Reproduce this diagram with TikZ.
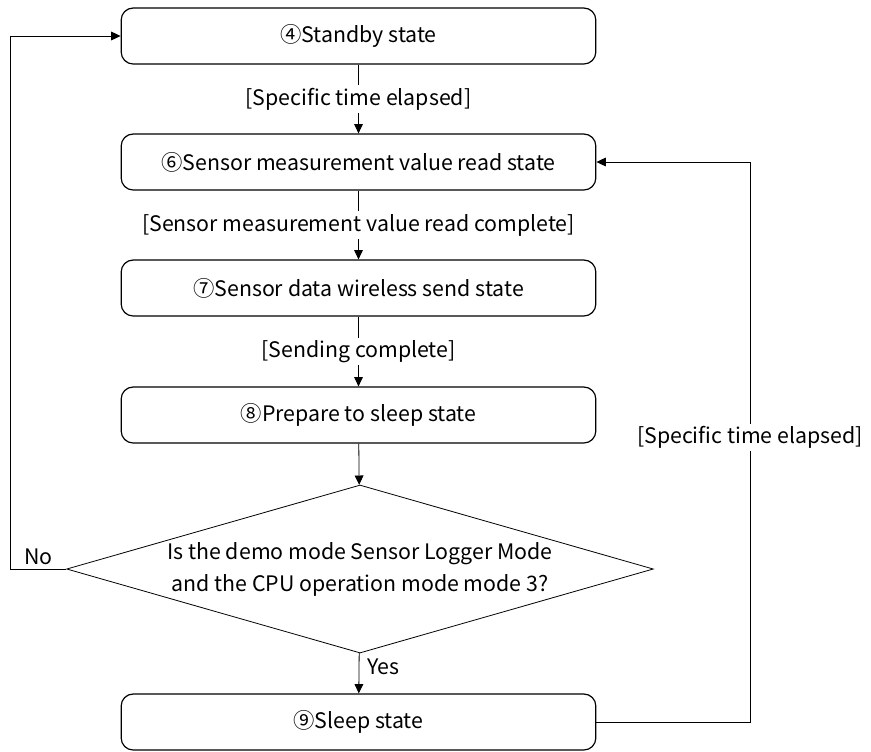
\documentclass[tikz,border=0pt]{standalone}
\usepackage{fontspec}
\setmainfont{Noto Sans CJK JP}
\usepackage{tikz}
\usetikzlibrary{positioning,shapes.geometric,arrows.meta}

\begin{document}
\begin{tikzpicture}[x=0.75pt,y=-0.75pt,
    font=\fontsize{16}{24}\selectfont,
    statebox/.style={draw=black,line width=0.9pt,rounded corners=9pt,
        minimum width=356pt,minimum height=42pt,inner sep=0pt},
    guard/.style={fill=white,inner sep=2pt},
    flow/.style={draw=black,line width=0.6pt,-{Triangle[length=7pt,width=6.5pt]}}]
            \useasboundingbox (0,0) rectangle (871,751);
            \node[statebox] (standby) at (358.5,36) {④Standby state};
            \node[statebox] (read) at (358.5,162) {⑥Sensor measurement value read state};
            \node[statebox] (send) at (358.5,288) {⑦Sensor data wireless send state};
            \node[statebox] (prep) at (358.5,415) {⑧Prepare to sleep state};
            \node[diamond,draw=black,line width=0.6pt,aspect=3.5,inner sep=0pt,
                 minimum width=440pt,minimum height=126pt,align=center]
                 (cond) at (360,569)
                 {Is the demo mode Sensor Logger Mode\\and the CPU operation mode mode 3?};
            \node[statebox] (sleep) at (358.5,722) {⑨Sleep state};
            \coordinate (nocorner) at (10.7,569);
            \coordinate (backcorner) at (750,722);
            \path[flow] (standby) -- node[guard] {[Specific time elapsed]} (read);
            \path[flow] (read) -- node[guard] {[Sensor measurement value read complete]} (send);
            \path[flow] (send) -- node[guard] {[Sending complete]} (prep);
            \path[flow] (prep) -- (cond);
            \path[flow] (cond) -- node[right,pos=0.35,inner sep=6pt] {Yes} (sleep);
            \path[flow] (cond.west) -- node[above,inner sep=3pt] {No} (nocorner)
                 |- (standby.west);
            \path[flow] (sleep.east) -- (backcorner)
                 |- node[guard,pos=0.254] {[Specific time elapsed]} (read.east);
          \end{tikzpicture}
\end{document}
